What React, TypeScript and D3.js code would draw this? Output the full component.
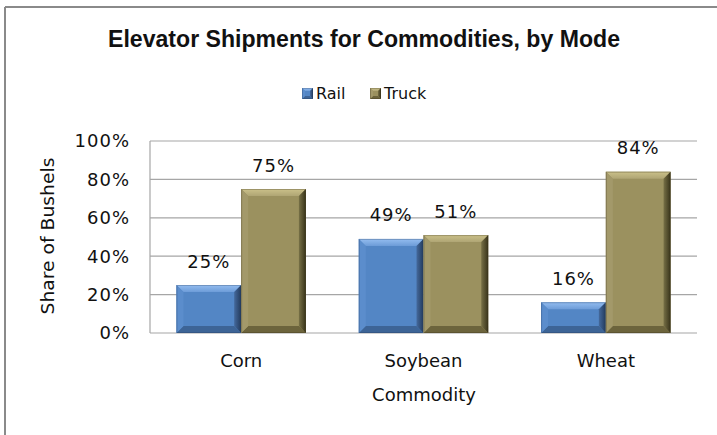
import React from "react";
import * as d3 from "d3";

const categories = ["Corn", "Soybean", "Wheat"];
const seriesNames = ["Rail", "Truck"];
const railValues = [0.25, 0.49, 0.16];
const truckValues = [0.75, 0.51, 0.84];
const yTicks = [0, 0.2, 0.4, 0.6, 0.8, 1.0];
const title = "Elevator Shipments for Commodities, by Mode";
const xTitle = "Commodity";
const yTitle = "Share of Bushels";

const W = 717;
const H = 435;
const FONT = "'DejaVu Sans', sans-serif";

const palettes: Record<string, any> = {
  Rail: {
    center: "#5386c5",
    topA: "#94bdf0",
    topB: "#6d9cd8",
    left: "#5b8dcc",
    rightA: "#44699c",
    rightB: "#233a5c",
    bottom: "#3d6496",
  },
  Truck: {
    center: "#9b915f",
    topA: "#cbc18a",
    topB: "#afa574",
    left: "#a3996a",
    rightA: "#777046",
    rightB: "#38331a",
    bottom: "#6c643c",
  },
};

function BevelBar({ x, y, w, h, name, b }: any) {
  const p = palettes[name];
  const bb = Math.min(b, h / 2, w / 2);
  const pts = (arr: number[][]) => arr.map((q) => q.join(",")).join(" ");
  const id = name + "-" + Math.round(x) + "-" + Math.round(y);
  return (
    <g>
      <defs>
        <linearGradient id={"t" + id} x1="0" y1="0" x2="0" y2="1">
          <stop offset="0" stopColor={p.topA} />
          <stop offset="1" stopColor={p.topB} />
        </linearGradient>
        <linearGradient id={"r" + id} x1="0" y1="0" x2="1" y2="0">
          <stop offset="0" stopColor={p.rightA} />
          <stop offset="1" stopColor={p.rightB} />
        </linearGradient>
      </defs>
      <rect x={x} y={y} width={w} height={h} fill={p.center} />
      <polygon
        points={pts([[x, y], [x + w, y], [x + w - bb, y + bb], [x + bb, y + bb]])}
        fill={`url(#t${id})`}
      />
      <polygon
        points={pts([[x, y + h], [x + w, y + h], [x + w - bb, y + h - bb], [x + bb, y + h - bb]])}
        fill={p.bottom}
      />
      <polygon
        points={pts([[x, y], [x + bb, y + bb], [x + bb, y + h - bb], [x, y + h]])}
        fill={p.left}
      />
      <polygon
        points={pts([[x + w, y], [x + w - bb, y + bb], [x + w - bb, y + h - bb], [x + w, y + h]])}
        fill={`url(#r${id})`}
      />
      <rect x={x + 0.5} y={y + 0.5} width={w - 1} height={h - 1} fill="none" stroke={p.rightB} strokeOpacity={0.3} />
    </g>
  );
}

export default function App() {
  const plotLeft = 150;
  const plotRight = 697;
  const plotTop = 141;
  const plotBottom = 333;

  const x0 = d3
    .scaleBand<string>()
    .domain(categories)
    .range([plotLeft, plotRight])
    .paddingInner(0.29)
    .paddingOuter(0.145);
  const x1 = d3.scaleBand<string>().domain(seriesNames).range([0, x0.bandwidth()]);
  const y = d3.scaleLinear().domain([0, 1]).range([plotBottom, plotTop]);
  const fmt = d3.format(".0%");

  const seriesData: Record<string, number[]> = { Rail: railValues, Truck: truckValues };

  return (
    <svg
      width={W}
      height={H}
      style={{ position: "absolute", left: 0, top: 0, background: "#fff" }}
    >
      <rect x={0} y={0} width={W} height={H} fill="#fff" />
      {/* chart border */}
      <line x1={5} y1={7} x2={W} y2={7} stroke="#8a8a8a" strokeWidth={2} />
      <line x1={5} y1={7} x2={5} y2={H} stroke="#8a8a8a" strokeWidth={2} />

      {/* title */}
      <text
        x={364}
        y={47}
        textAnchor="middle"
        fontFamily="'Liberation Sans', Arial, sans-serif"
        fontWeight="bold"
        fontSize={23}
        textLength={512}
        lengthAdjust="spacingAndGlyphs"
        fill="#111"
      >
        {title}
      </text>

      {/* legend */}
      {seriesNames.map((s, i) => {
        const lx = [302, 370][i];
        return (
          <g key={s}>
            <BevelBar x={lx} y={88} w={11} h={11} name={s} b={3} />
            <text x={lx + 14} y={99} fontFamily={FONT} fontSize={16} fill="#111">
              {s}
            </text>
          </g>
        );
      })}

      {/* gridlines */}
      {yTicks.map((t) => (
        <line
          key={t}
          x1={plotLeft}
          x2={plotRight}
          y1={y(t)}
          y2={y(t)}
          stroke="#a6a6a6"
          strokeWidth={1.2}
        />
      ))}
      <line x1={plotLeft} x2={plotLeft} y1={plotTop} y2={plotBottom} stroke="#a6a6a6" strokeWidth={1.2} />

      {/* y tick labels */}
      {yTicks.map((t) => (
        <text
          key={"l" + t}
          x={130}
          y={y(t)}
          dy="0.36em"
          textAnchor="end"
          fontFamily={FONT}
          fontSize={18}
          letterSpacing={1}
          fill="#111"
        >
          {fmt(t)}
        </text>
      ))}

      {/* y title */}
      <text
        transform={`translate(54,236) rotate(-90)`}
        textAnchor="middle"
        fontFamily={FONT}
        fontSize={17}
        textLength={157}
        lengthAdjust="spacingAndGlyphs"
        fill="#111"
      >
        {yTitle}
      </text>

      {/* bars */}
      {categories.map((c, ci) => (
        <g key={c}>
          {seriesNames.map((s) => {
            const v = seriesData[s][ci];
            const bx = (x0(c) as number) + (x1(s) as number);
            const bw = x1.bandwidth();
            const by = y(v);
            const bh = y(0) - y(v);
            return (
              <g key={s}>
                <BevelBar x={bx} y={by} w={bw} h={bh} name={s} b={7} />
                <text
                  x={bx + bw / 2}
                  y={by - 17.5}
                  textAnchor="middle"
                  fontFamily={FONT}
                  fontSize={18}
                  letterSpacing={1}
                  fill="#111"
                >
                  {fmt(v)}
                </text>
              </g>
            );
          })}
          <text
            x={(x0(c) as number) + x0.bandwidth() / 2}
            y={367}
            textAnchor="middle"
            fontFamily={FONT}
            fontSize={18}
            fill="#111"
          >
            {c}
          </text>
        </g>
      ))}

      {/* x title */}
      <text
        x={424}
        y={401}
        textAnchor="middle"
        fontFamily={FONT}
        fontSize={18}
        fill="#111"
      >
        {xTitle}
      </text>
    </svg>
  );
}
